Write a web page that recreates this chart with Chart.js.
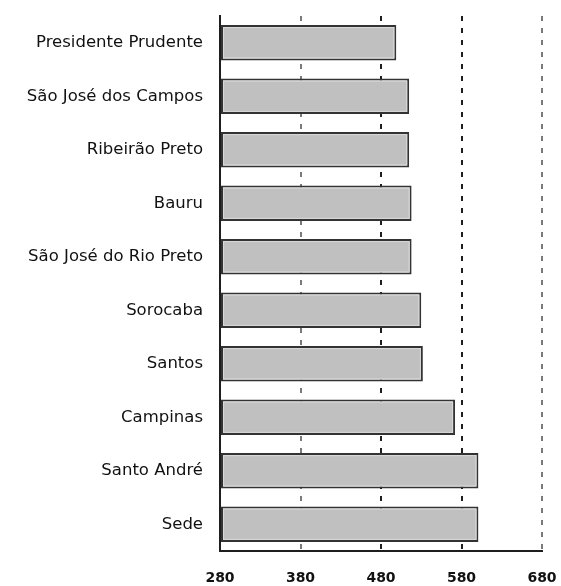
<!DOCTYPE html>
<html>
<head>
<meta charset="utf-8">
<script src="https://cdn.jsdelivr.net/npm/chart.js@4.4.1/dist/chart.umd.min.js"></script>
<style>
  body { margin: 0; background: #fff; }
  #chart { display: block; }
</style>
</head>
<body>
<canvas id="chart" width="561" height="586"></canvas>
<script>
// Chart data
const cities = [
    'Presidente Prudente',
    'São José dos Campos',
    'Ribeirão Preto',
    'Bauru',
    'São José do Rio Preto',
    'Sorocaba',
    'Santos',
    'Campinas',
    'Santo André',
    'Sede'
];
const values = [499, 515, 515, 518, 518, 530, 532, 572, 601, 601];
const xTicks = [280, 380, 480, 580, 680];

Chart.defaults.font.family = "'DejaVu Sans', sans-serif";
Chart.defaults.color = '#111111';

// light inner edge on the bars, like the old bevelled look
const bevelPlugin = {
    id: 'bevel',
    afterDatasetsDraw(chart) {
        const ctx = chart.ctx;
        chart.getDatasetMeta(0).data.forEach(bar => {
            const p = bar.getProps(['x', 'y', 'base', 'height'], true);
            const left = Math.min(p.x, p.base);
            const right = Math.max(p.x, p.base);
            const top = p.y - p.height / 2;
            const bottom = p.y + p.height / 2;
            ctx.save();
            ctx.strokeStyle = '#d8d8d8';
            ctx.lineWidth = 1;
            ctx.strokeRect(left + 2.5, top + 2.5, right - left - 5, bottom - top - 5);
            ctx.restore();
        });
    }
};

const gridColor = ctx => {
    const v = ctx.tick ? ctx.tick.value : null;
    if (v === 280) return 'rgba(0,0,0,0)';
    if (v === 380 || v === 680) return '#7a7a7a';
    return '#1e1e1e';
};

new Chart(document.getElementById('chart').getContext('2d'), {
    type: 'bar',
    data: {
        labels: cities,
        datasets: [{
            data: values,
            base: xTicks[0],
            backgroundColor: '#c0c0c0',
            borderColor: '#333333',
            borderWidth: 2,
            borderSkipped: false,
            categoryPercentage: 1.0,
            barPercentage: 0.66
        }]
    },
    options: {
        indexAxis: 'y',
        responsive: false,
        animation: false,
        events: [],
        layout: {
            padding: { top: 16, right: 19, left: 0, bottom: 0 }
        },
        plugins: {
            legend: { display: false },
            tooltip: { enabled: false }
        },
        scales: {
            x: {
                type: 'linear',
                min: xTicks[0],
                max: xTicks[xTicks.length - 1],
                afterBuildTicks: scale => {
                    scale.ticks = xTicks.map(v => ({ value: v }));
                },
                afterFit: scale => {
                    scale.height = 35;
                    scale.paddingLeft = 0;
                    scale.paddingRight = 0;
                },
                grid: {
                    color: gridColor,
                    lineWidth: 2,
                    drawTicks: false
                },
                border: {
                    display: true,
                    color: '#1e1e1e',
                    width: 2,
                    dash: [5, 7]
                },
                ticks: {
                    padding: 19,
                    font: { size: 14, weight: 'bold' }
                }
            },
            y: {
                afterFit: scale => {
                    scale.width = 220;
                    scale.paddingTop = 0;
                    scale.paddingBottom = 0;
                },
                grid: { display: false, drawTicks: false },
                border: {
                    display: true,
                    color: '#1e1e1e',
                    width: 2
                },
                ticks: {
                    padding: 17,
                    font: { size: 16.5 }
                }
            }
        }
    },
    plugins: [bevelPlugin]
});
</script>
</body>
</html>
